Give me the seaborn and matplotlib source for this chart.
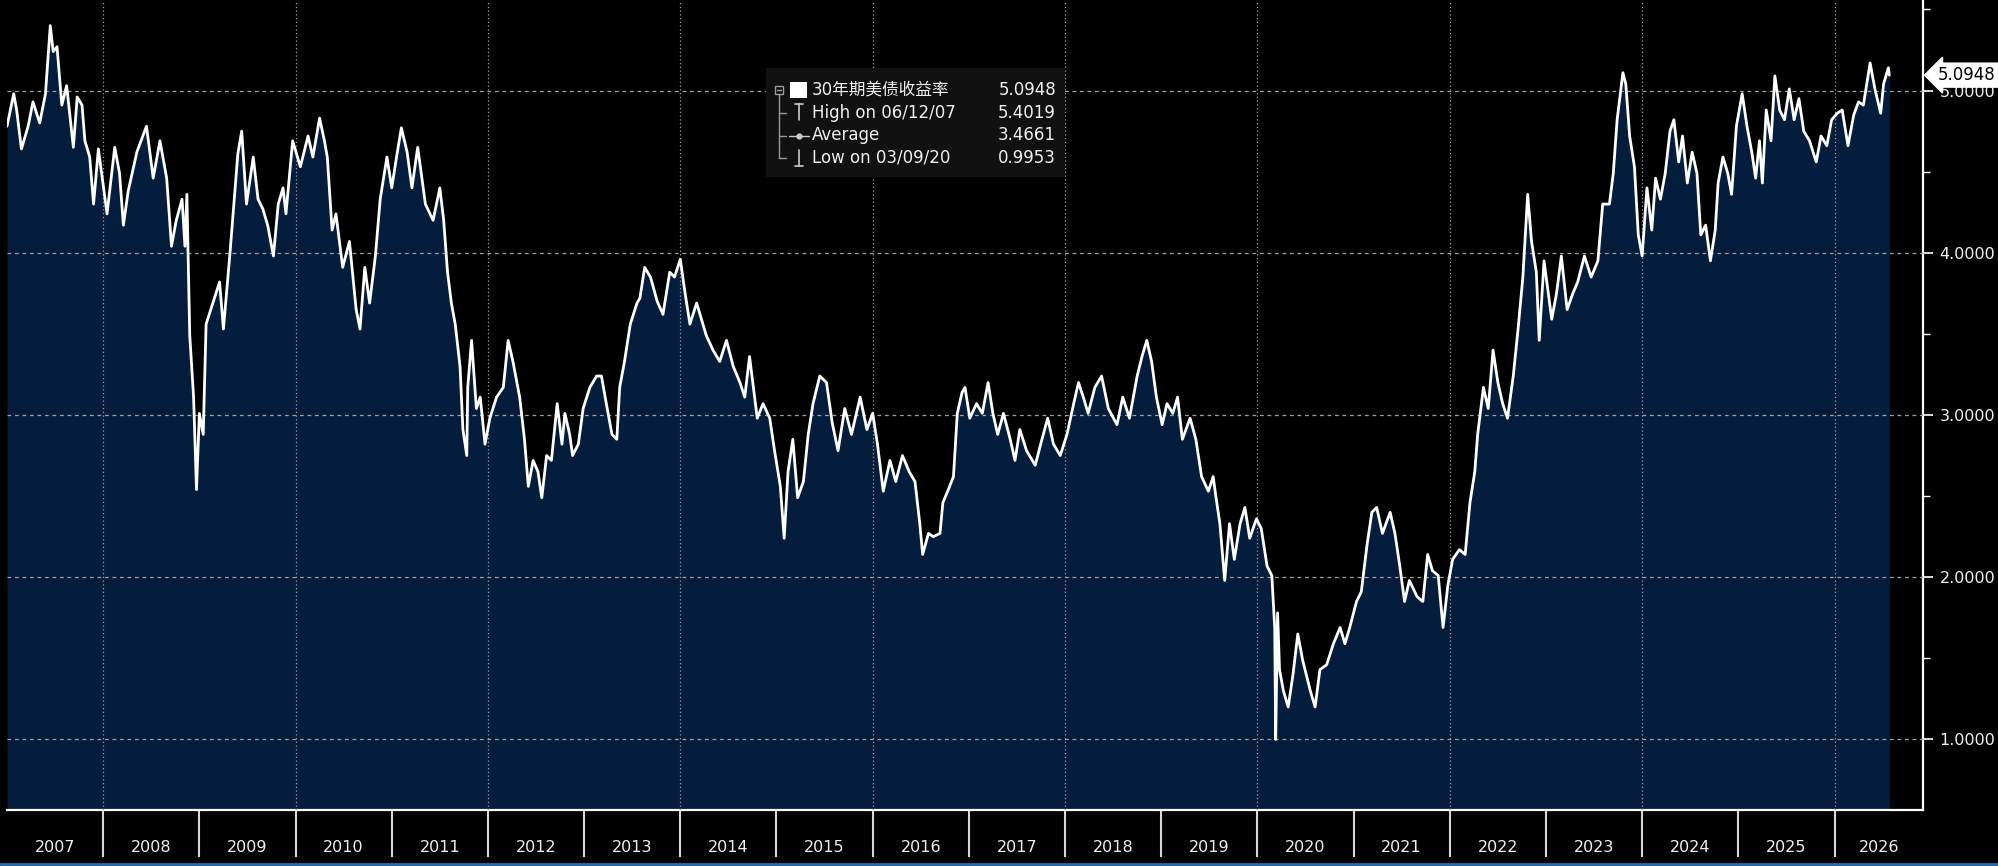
import numpy as np
import pandas as pd
import matplotlib
matplotlib.use('Agg')
import matplotlib.pyplot as plt
import matplotlib.transforms as mtransforms
from matplotlib.lines import Line2D
from matplotlib.patches import Rectangle
import seaborn as sns

# series (decimal year, yield %)
series_name = '30年期美债收益率'
years = [
    2007.00, 2007.07, 2007.10, 2007.15, 2007.22, 2007.27, 2007.34, 2007.40, 2007.45, 2007.48,
    2007.52, 2007.57, 2007.62, 2007.69, 2007.73, 2007.78, 2007.81, 2007.86, 2007.90, 2007.95,
    2007.99, 2008.04, 2008.12, 2008.17, 2008.21, 2008.26, 2008.35, 2008.45, 2008.52, 2008.59,
    2008.66, 2008.71, 2008.76, 2008.82, 2008.85, 2008.87, 2008.90, 2008.94, 2008.97, 2009.00,
    2009.04, 2009.07, 2009.14, 2009.21, 2009.25, 2009.32, 2009.40, 2009.44, 2009.49, 2009.56,
    2009.61, 2009.66, 2009.71, 2009.77, 2009.82, 2009.87, 2009.90, 2009.97, 2010.05, 2010.13,
    2010.18, 2010.25, 2010.30, 2010.33, 2010.38, 2010.42, 2010.49, 2010.56, 2010.63, 2010.67,
    2010.72, 2010.77, 2010.83, 2010.88, 2010.95, 2011.00, 2011.05, 2011.10, 2011.16, 2011.21,
    2011.27, 2011.35, 2011.43, 2011.50, 2011.54, 2011.58, 2011.62, 2011.66, 2011.71, 2011.74,
    2011.78, 2011.79, 2011.83, 2011.88, 2011.92, 2011.97, 2012.02, 2012.09, 2012.16, 2012.21,
    2012.26, 2012.33, 2012.38, 2012.42, 2012.47, 2012.52, 2012.56, 2012.61, 2012.66, 2012.72,
    2012.77, 2012.80, 2012.85, 2012.88, 2012.94, 2012.99, 2013.06, 2013.13, 2013.18, 2013.24,
    2013.29, 2013.34, 2013.37, 2013.42, 2013.48, 2013.55, 2013.58, 2013.63, 2013.69, 2013.76,
    2013.82, 2013.89, 2013.94, 2014.00, 2014.05, 2014.10, 2014.17, 2014.22, 2014.27, 2014.34,
    2014.41, 2014.48, 2014.55, 2014.62, 2014.67, 2014.72, 2014.80, 2014.86, 2014.93, 2014.98,
    2015.04, 2015.08, 2015.12, 2015.17, 2015.22, 2015.28, 2015.33, 2015.38, 2015.45, 2015.52,
    2015.58, 2015.64, 2015.71, 2015.78, 2015.87, 2015.94, 2016.00, 2016.05, 2016.11, 2016.18,
    2016.24, 2016.31, 2016.38, 2016.44, 2016.49, 2016.52, 2016.58, 2016.63, 2016.70, 2016.73,
    2016.78, 2016.84, 2016.88, 2016.93, 2016.96, 2017.01, 2017.08, 2017.14, 2017.20, 2017.25,
    2017.30, 2017.36, 2017.43, 2017.48, 2017.53, 2017.60, 2017.69, 2017.76, 2017.82, 2017.88,
    2017.95, 2018.02, 2018.09, 2018.14, 2018.19, 2018.24, 2018.31, 2018.38, 2018.45, 2018.54,
    2018.60, 2018.67, 2018.75, 2018.80, 2018.85, 2018.90, 2018.95, 2019.01, 2019.06, 2019.12,
    2019.17, 2019.22, 2019.30, 2019.36, 2019.42, 2019.49, 2019.54, 2019.57, 2019.61, 2019.66,
    2019.71, 2019.76, 2019.82, 2019.87, 2019.92, 2019.99, 2020.04, 2020.10, 2020.15, 2020.18,
    2020.19, 2020.21, 2020.23, 2020.27, 2020.32, 2020.37, 2020.42, 2020.47, 2020.55, 2020.60,
    2020.65, 2020.72, 2020.79, 2020.86, 2020.91, 2020.96, 2021.03, 2021.08, 2021.14, 2021.19,
    2021.24, 2021.30, 2021.38, 2021.43, 2021.48, 2021.53, 2021.58, 2021.66, 2021.72, 2021.77,
    2021.82, 2021.88, 2021.93, 2021.98, 2022.03, 2022.10, 2022.16, 2022.21, 2022.26, 2022.29,
    2022.35, 2022.40, 2022.45, 2022.50, 2022.55, 2022.60, 2022.66, 2022.71, 2022.76, 2022.81,
    2022.85, 2022.90, 2022.93, 2022.98, 2023.06, 2023.11, 2023.16, 2023.22, 2023.28, 2023.33,
    2023.40, 2023.47, 2023.54, 2023.59, 2023.66, 2023.70, 2023.74, 2023.80, 2023.83, 2023.87,
    2023.92, 2023.96, 2024.00, 2024.05, 2024.10, 2024.14, 2024.19, 2024.24, 2024.29, 2024.33,
    2024.38, 2024.42, 2024.47, 2024.52, 2024.57, 2024.61, 2024.66, 2024.71, 2024.76, 2024.79,
    2024.84, 2024.89, 2024.93, 2024.98, 2025.04, 2025.09, 2025.14, 2025.18, 2025.22, 2025.25,
    2025.29, 2025.34, 2025.38, 2025.43, 2025.48, 2025.53, 2025.58, 2025.63, 2025.68, 2025.74,
    2025.81, 2025.86, 2025.92, 2025.97, 2026.03, 2026.08, 2026.14, 2026.20, 2026.25, 2026.30,
    2026.37, 2026.42, 2026.48, 2026.51, 2026.56, 2026.57,
]
yields = [
    4.78, 4.98, 4.88, 4.64, 4.78, 4.93, 4.80, 4.98, 5.40, 5.24,
    5.27, 4.91, 5.03, 4.65, 4.96, 4.91, 4.69, 4.59, 4.30, 4.64,
    4.46, 4.24, 4.65, 4.49, 4.17, 4.38, 4.62, 4.78, 4.46, 4.69,
    4.46, 4.04, 4.20, 4.33, 4.04, 4.36, 3.49, 3.11, 2.54, 3.01,
    2.88, 3.56, 3.69, 3.82, 3.53, 4.01, 4.61, 4.75, 4.30, 4.59,
    4.33, 4.27, 4.17, 3.98, 4.30, 4.40, 4.24, 4.69, 4.53, 4.72,
    4.59, 4.83, 4.69, 4.59, 4.14, 4.24, 3.91, 4.07, 3.65, 3.53,
    3.91, 3.69, 3.98, 4.33, 4.59, 4.40, 4.59, 4.77, 4.62, 4.40,
    4.65, 4.30, 4.20, 4.40, 4.20, 3.88, 3.69, 3.56, 3.30, 2.91,
    2.75, 3.17, 3.46, 3.04, 3.11, 2.82, 2.98, 3.11, 3.17, 3.46,
    3.33, 3.11, 2.85, 2.56, 2.72, 2.65, 2.49, 2.75, 2.72, 3.07,
    2.82, 3.01, 2.88, 2.75, 2.82, 3.04, 3.17, 3.24, 3.24, 3.04,
    2.88, 2.85, 3.17, 3.33, 3.56, 3.69, 3.72, 3.91, 3.85, 3.70,
    3.62, 3.88, 3.85, 3.96, 3.75, 3.56, 3.69, 3.59, 3.49, 3.40,
    3.33, 3.46, 3.30, 3.20, 3.11, 3.36, 2.98, 3.07, 2.98, 2.78,
    2.56, 2.24, 2.65, 2.85, 2.49, 2.59, 2.88, 3.07, 3.24, 3.20,
    2.95, 2.78, 3.04, 2.88, 3.11, 2.91, 3.01, 2.82, 2.53, 2.72,
    2.59, 2.75, 2.65, 2.59, 2.33, 2.14, 2.27, 2.25, 2.27, 2.46,
    2.53, 2.62, 3.01, 3.14, 3.17, 2.98, 3.07, 3.01, 3.20, 3.01,
    2.88, 3.01, 2.85, 2.72, 2.91, 2.78, 2.69, 2.85, 2.98, 2.82,
    2.75, 2.88, 3.07, 3.20, 3.11, 3.01, 3.17, 3.24, 3.04, 2.94,
    3.11, 2.98, 3.24, 3.36, 3.46, 3.33, 3.11, 2.94, 3.07, 3.01,
    3.11, 2.85, 2.98, 2.85, 2.62, 2.53, 2.62, 2.49, 2.33, 1.98,
    2.33, 2.11, 2.33, 2.43, 2.24, 2.36, 2.30, 2.07, 2.01, 1.69,
    1.00, 1.78, 1.43, 1.30, 1.20, 1.40, 1.65, 1.49, 1.30, 1.20,
    1.43, 1.46, 1.59, 1.69, 1.59, 1.69, 1.85, 1.91, 2.20, 2.40,
    2.43, 2.27, 2.40, 2.27, 2.07, 1.85, 1.98, 1.88, 1.85, 2.14,
    2.04, 2.01, 1.69, 1.95, 2.11, 2.17, 2.14, 2.46, 2.65, 2.88,
    3.17, 3.04, 3.40, 3.20, 3.07, 2.98, 3.24, 3.53, 3.85, 4.36,
    4.07, 3.88, 3.46, 3.95, 3.59, 3.75, 3.98, 3.65, 3.75, 3.82,
    3.98, 3.85, 3.95, 4.30, 4.30, 4.49, 4.82, 5.11, 5.04, 4.72,
    4.53, 4.11, 3.98, 4.40, 4.14, 4.46, 4.33, 4.49, 4.75, 4.82,
    4.56, 4.72, 4.43, 4.62, 4.49, 4.11, 4.17, 3.95, 4.14, 4.43,
    4.59, 4.49, 4.36, 4.78, 4.98, 4.78, 4.62, 4.46, 4.69, 4.43,
    4.88, 4.69, 5.09, 4.88, 4.82, 5.01, 4.82, 4.95, 4.75, 4.69,
    4.56, 4.72, 4.66, 4.82, 4.86, 4.88, 4.66, 4.85, 4.93, 4.91,
    5.17, 5.01, 4.86, 5.04, 5.14, 5.0948,
]
year_labels = list(range(2007, 2027))
y_ticks = [1, 2, 3, 4, 5]
legend_rows = ['High on 06/12/07', 'Average', 'Low on 03/09/20']
legend_values = [5.4019, 3.4661, 0.9953]
last_value = 5.0948

W, H = 1999, 866
X_MIN, X_MAX = 2007.0, 2026.92
Y_MIN, Y_MAX = 0.565, 5.558

sns.set_style('dark')
plt.rcParams['font.family'] = ['DejaVu Sans', 'Noto Sans CJK SC']
text_color = '#f0f0f0'
fill_color = '#041d3c'
grid_color = '#a0a0a0'

fig = plt.figure(figsize=(W / 100, H / 100), dpi=100, facecolor='black')
ax = fig.add_axes([7 / W, 56 / H, (1923 - 7) / W, 810 / H])
ax.set_facecolor('black')

df = pd.DataFrame({'year': years, 'yield': yields})
ax.fill_between(df['year'], df['yield'], Y_MIN, color=fill_color, lw=0, zorder=1)
sns.lineplot(data=df, x='year', y='yield', color='white', lw=2.0, ax=ax, zorder=3)
ax.set_xlim(X_MIN, X_MAX)
ax.set_ylim(Y_MIN, Y_MAX)
ax.set_xlabel('')
ax.set_ylabel('')

# grid: dashed horizontals, dotted verticals every two years
ax.set_axisbelow(False)
ax.set_xticks([y for y in year_labels if y % 2 == 0 and y > 2007])
ax.set_yticks(y_ticks)
ax.set_yticks([1.5, 2.5, 3.5, 4.5, 5.5], minor=True)
ax.grid(False)
ax.grid(axis='y', which='major', color=grid_color, lw=0.9, linestyle=(0, (3, 3)))
ax.grid(axis='x', which='major', color=grid_color, lw=0.9, linestyle=(0, (1, 2)))
ax.tick_params(axis='x', length=0, labelbottom=False)
ax.yaxis.tick_right()
ax.set_yticklabels([f'{v:.4f}' for v in y_ticks])
ax.tick_params(axis='y', which='major', direction='out', length=7, width=1.2,
               color='white', labelcolor=text_color, labelsize=11.5, pad=5)
ax.tick_params(axis='y', which='minor', direction='out', length=5, width=1.0, color='white')

for side in ['left', 'top']:
    ax.spines[side].set_visible(False)
for side in ['right', 'bottom']:
    ax.spines[side].set_visible(True)
    ax.spines[side].set_color('white')
    ax.spines[side].set_linewidth(1.6)

# year separators and centred year labels under the axis
xt = ax.get_xaxis_transform()
ax.vlines(year_labels[1:], 0, -47 / 810, transform=xt, colors='#d8d8d8', lw=1.5, clip_on=False)
for yr in year_labels:
    lo, hi = max(yr, X_MIN), min(yr + 1, X_MAX)
    ax.text((lo + hi) / 2, -37 / 810, str(yr), transform=xt, ha='center', va='center',
            color=text_color, fontsize=11.5, clip_on=False)

# last value tag on the right axis
tag_tr = mtransforms.blended_transform_factory(ax.transAxes, ax.transData)
ax.text(1.0075, last_value, f'{last_value:.4f}', transform=tag_tr, ha='left', va='center',
        color='black', fontsize=12, zorder=10, clip_on=False,
        bbox=dict(boxstyle='larrow,pad=0.18', fc='white', ec='white'))

# legend box
def fx(px):
    return px / W


def fy(py):
    return 1 - py / H


fig.add_artist(Rectangle((fx(766), fy(177)), fx(299), 109 / H, transform=fig.transFigure,
                         fc='#111111', ec='none', zorder=5))
row_y = [90, 112.5, 135.5, 158]
icon_c = '#9a9a9a'
fig.add_artist(Rectangle((fx(775), fy(94)), fx(8), 8 / H, transform=fig.transFigure,
                         fc='none', ec=icon_c, lw=1, zorder=6))
fig.add_artist(Line2D([fx(777), fx(781)], [fy(90)] * 2, color=icon_c, lw=1, zorder=6))
fig.add_artist(Line2D([fx(779), fx(779)], [fy(94), fy(row_y[3])], color=icon_c, lw=1, zorder=6))
for ry in row_y[1:]:
    fig.add_artist(Line2D([fx(779), fx(786)], [fy(ry)] * 2, color=icon_c, lw=1, zorder=6))
fig.add_artist(Rectangle((fx(790), fy(98)), fx(17), 16 / H, transform=fig.transFigure,
                         fc='white', ec='none', zorder=6))
# high / average / low glyphs
fig.add_artist(Line2D([fx(799), fx(799)], [fy(104), fy(120)], color='#cccccc', lw=1.2, zorder=6))
fig.add_artist(Line2D([fx(795), fx(803)], [fy(104)] * 2, color='#cccccc', lw=1.2, zorder=6))
fig.add_artist(Line2D([fx(789), fx(809)], [fy(135.5)] * 2, color='#cccccc', lw=1.0, zorder=6))
fig.add_artist(Line2D([fx(799)], [fy(135.5)], color='#cccccc', marker='o', ms=3.5, lw=0, zorder=6))
fig.add_artist(Line2D([fx(799), fx(799)], [fy(150), fy(166)], color='#cccccc', lw=1.2, zorder=6))
fig.add_artist(Line2D([fx(795), fx(803)], [fy(166)] * 2, color='#cccccc', lw=1.2, zorder=6))

names = [series_name] + legend_rows
values = [last_value] + legend_values
for ry, name, val in zip(row_y, names, values):
    fig.text(fx(812), fy(ry), name, ha='left', va='center', color=text_color,
             fontsize=12, zorder=7)
    fig.text(fx(1056), fy(ry), f'{val:.4f}', ha='right', va='center', color=text_color,
             fontsize=12, zorder=7)

# thin blue rule at the very bottom
fig.add_artist(Line2D([0, 1], [fy(864)] * 2, color='#2a6db0', lw=2, zorder=5))

fig.savefig('out.png', dpi=100, facecolor='black')
